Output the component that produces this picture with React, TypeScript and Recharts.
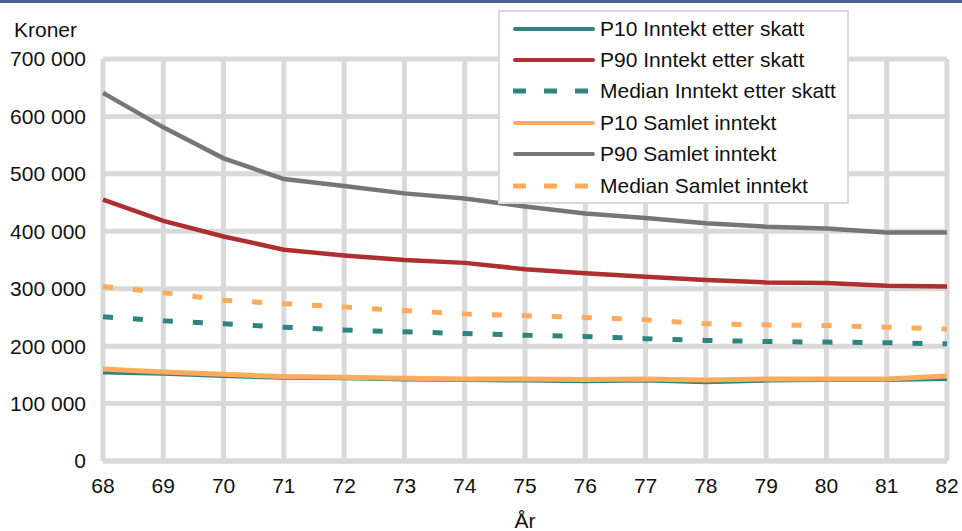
import { LineChart, Line, XAxis, YAxis, CartesianGrid, Label } from 'recharts'

const FONT = '"Liberation Sans", Arial, sans-serif'

const years = [68, 69, 70, 71, 72, 73, 74, 75, 76, 77, 78, 79, 80, 81, 82]
const p10Etter = [154000, 152000, 148000, 145000, 144000, 142000, 141000, 140000, 139000, 140000, 137000, 140000, 141000, 141000, 143000]
const p90Etter = [455000, 418000, 391000, 368000, 358000, 350000, 345000, 334000, 327000, 321000, 315000, 311000, 310000, 305000, 304000]
const medEtter = [251000, 244000, 239000, 233000, 228000, 225000, 222000, 219000, 217000, 213000, 210000, 208000, 207000, 206000, 204000]
const p10Samlet = [160000, 155000, 151000, 147000, 146000, 144000, 143000, 143000, 142000, 143000, 141000, 143000, 143000, 143000, 148000]
const p90Samlet = [641000, 581000, 527000, 491000, 479000, 466000, 457000, 443000, 431000, 423000, 414000, 408000, 405000, 398000, 398000]
const medSamlet = [304000, 293000, 280000, 274000, 268000, 262000, 256000, 253000, 250000, 246000, 239000, 237000, 236000, 233000, 230000]
const yTicks = [0, 100000, 200000, 300000, 400000, 500000, 600000, 700000]

const data = years.map((yr, i) => ({
  year: yr,
  p10Etter: p10Etter[i],
  p90Etter: p90Etter[i],
  medEtter: medEtter[i],
  p10Samlet: p10Samlet[i],
  p90Samlet: p90Samlet[i],
  medSamlet: medSamlet[i],
}))

const series = [
  { key: 'p10Etter', name: 'P10 Inntekt etter skatt', color: '#2f8380', dashed: false, width: 4 },
  { key: 'p90Etter', name: 'P90 Inntekt etter skatt', color: '#ad2f30', dashed: false, width: 4.5 },
  { key: 'medEtter', name: 'Median Inntekt etter skatt', color: '#2f8380', dashed: true, width: 5 },
  { key: 'p10Samlet', name: 'P10 Samlet inntekt', color: '#ffab5b', dashed: false, width: 5 },
  { key: 'p90Samlet', name: 'P90 Samlet inntekt', color: '#767676', dashed: false, width: 4.5 },
  { key: 'medSamlet', name: 'Median Samlet inntekt', color: '#ffab5b', dashed: true, width: 5 },
]

const fmt = (v: number) => String(v).replace(/\B(?=(\d{3})+(?!\d))/g, ' ')

function LegendBox() {
  return (
    <div style={{
      position: 'absolute', left: 498, top: 10, width: 347, height: 189,
      border: '2px solid #d9d9d9', background: '#fff', paddingTop: 1,
    }}>
      {series.map(s => (
        <div key={s.key} style={{ display: 'flex', alignItems: 'center', height: 31.4 }}>
          <svg width={100} height={10} style={{ flex: 'none' }}>
            <line
              x1={s.dashed ? 13 : 15} x2={s.dashed ? 90 : 93} y1={5} y2={5}
              stroke={s.color} strokeWidth={s.dashed ? 5 : 4}
              strokeLinecap={s.dashed ? 'butt' : 'round'}
              strokeDasharray={s.dashed ? '13 18' : undefined}
            />
          </svg>
          <span style={{ fontSize: 21, color: '#111', whiteSpace: 'nowrap' }}>{s.name}</span>
        </div>
      ))}
    </div>
  )
}

export default function App() {
  return (
    <div style={{ position: 'fixed', left: 0, top: 0, width: 962, height: 531, background: '#fff', fontFamily: FONT }}>
      <LineChart width={962} height={531} data={data} margin={{ top: 59, right: 15, bottom: 0, left: 0 }}>
        <CartesianGrid stroke="#d9d9d9" strokeWidth={5} />
        <XAxis
          dataKey="year"
          height={70}
          tickLine={false}
          axisLine={{ stroke: '#d9d9d9', strokeWidth: 5 }}
          tickMargin={11}
          tick={{ fill: '#111', fontSize: 21, fontFamily: FONT }}
        >
          <Label value="År" position="insideBottom" offset={3} fill="#111" fontSize={21} fontFamily={FONT} />
        </XAxis>
        <YAxis
          width={103}
          domain={[0, 700000]}
          ticks={yTicks}
          tickFormatter={fmt}
          tickLine={false}
          axisLine={false}
          tickMargin={11}
          tick={{ fill: '#111', fontSize: 21, fontFamily: FONT }}
          label={{
            content: () => (
              <text x={14} y={37} fill="#111" fontSize={21} fontFamily={FONT}>Kroner</text>
            ),
          }}
        />
        {series.map(s => (
          <Line
            key={s.key}
            dataKey={s.key}
            name={s.name}
            stroke={s.color}
            strokeWidth={s.width}
            strokeDasharray={s.dashed ? '10 20' : undefined}
            dot={false}
            activeDot={false}
            isAnimationActive={false}
          />
        ))}
      </LineChart>
      <div style={{ position: 'absolute', left: 0, top: 0, width: 962, height: 3, background: '#4a6193' }} />
      <LegendBox />
    </div>
  )
}
